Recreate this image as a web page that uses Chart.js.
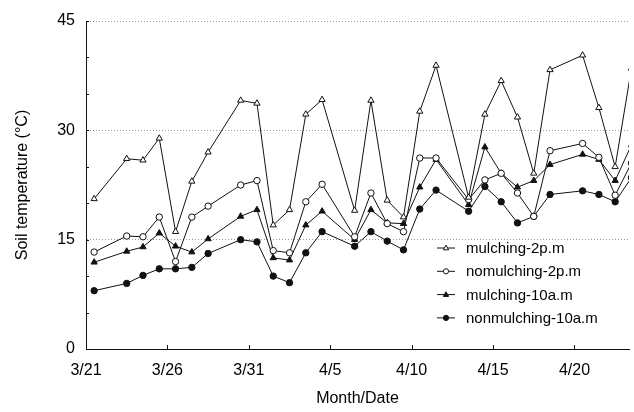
<!DOCTYPE html>
<html>
<head>
<meta charset="utf-8">
<script src="https://cdn.jsdelivr.net/npm/chart.js@4.4.0/dist/chart.umd.min.js"></script>
<style>
  html, body { margin: 0; padding: 0; background: #fff; }
</style>
</head>
<body>
<canvas id="chart" width="634" height="412"></canvas>
<script>
// measurement dates (month/day)
const dates = ['3/21','3/23','3/24','3/25','3/26','3/27','3/28','3/30','3/31','4/1','4/2','4/3','4/4',
               '4/6','4/7','4/8','4/9','4/10','4/11','4/13','4/14','4/15','4/16','4/17','4/18',
               '4/20','4/21','4/22','4/23'];

// soil temperature, degC
const mulching2pm    = [20.6, 26.1, 25.9, 28.9, 16.1, 23.0, 27.0, 34.1, 33.7, 17.0, 19.1, 32.2, 34.2,
                        19.0, 34.1, 20.4, 18.1, 32.6, 38.9, 20.8, 32.2, 36.8, 31.8, 24.1, 38.3,
                        40.3, 33.1, 25.0, 38.5];
const nomulching2pm  = [13.3, 15.5, 15.4, 18.1, 12.0, 18.1, 19.6, 22.5, 23.1, 13.5, 13.2, 20.2, 22.6,
                        15.4, 21.4, 17.2, 16.1, 26.2, 26.2, 20.5, 23.2, 24.1, 21.4, 18.2, 27.2,
                        28.2, 26.3, 21.1, 25.5];
const mulching10am   = [11.9, 13.4, 14.0, 15.9, 14.1, 13.3, 15.1, 18.2, 19.1, 12.5, 12.2, 17.0, 18.9,
                        15.0, 19.1, 17.3, 17.2, 22.2, 26.0, 19.8, 27.7, 24.1, 22.2, 23.1, 25.3,
                        26.7, 26.0, 23.1, 28.0];
const nonmulching10am = [8.0, 9.0, 10.1, 11.0, 11.0, 11.2, 13.1, 15.0, 14.7, 10.0, 9.1, 13.2, 16.1,
                        14.1, 16.1, 14.8, 13.6, 19.2, 21.8, 18.9, 22.3, 20.2, 17.3, 18.2, 21.2,
                        21.7, 21.2, 20.2, 23.5];

const xTickLabels = ['3/21','3/26','3/31','4/5','4/10','4/15','4/20'];
const yTickLabels = [0, 15, 30, 45];

// days since 3/21
function dayOf(md) {
    const [m, d] = md.split('/').map(Number);
    return (Date.UTC(2000, m - 1, d) - Date.UTC(2000, 2, 21)) / 864e5;
}
// readings sit around midday of each date
const points = vals => vals.map((v, i) => ({ x: dayOf(dates[i]) + 0.5, y: v }));

const ink = '#111';
function series(label, vals, style, filled) {
    return {
        label: label,
        data: points(vals),
        borderColor: ink,
        borderWidth: 1,
        pointStyle: style,
        pointRadius: style === 'triangle' ? 3.6 : 3.2,
        pointBackgroundColor: filled ? ink : '#fff',
        pointBorderColor: ink,
        pointBorderWidth: 1,
        tension: 0
    };
}

function drawMarker(ctx, style, filled, x, y, r) {
    ctx.beginPath();
    if (style === 'triangle') {
        ctx.moveTo(x, y - r * 1.1);
        ctx.lineTo(x + r, y + r * 0.7);
        ctx.lineTo(x - r, y + r * 0.7);
        ctx.closePath();
    } else {
        ctx.arc(x, y, r, 0, Math.PI * 2);
    }
    ctx.fillStyle = filled ? ink : '#fff';
    ctx.fill();
    ctx.stroke();
}

// legend drawn inside the plot, lower right
const insideLegend = {
    id: 'insideLegend',
    afterDraw(chart) {
        const ctx = chart.ctx;
        const area = chart.chartArea;
        const x0 = area.left + 351;
        const y0 = area.top + 227;
        ctx.save();
        ctx.strokeStyle = ink;
        ctx.lineWidth = 1;
        ctx.font = '15px Arial, "Liberation Sans", sans-serif';
        ctx.textBaseline = 'middle';
        chart.data.datasets.forEach((ds, i) => {
            const y = y0 + i * 23.3;
            ctx.beginPath();
            ctx.moveTo(x0, y);
            ctx.lineTo(x0 + 18, y);
            ctx.stroke();
            drawMarker(ctx, ds.pointStyle, ds.pointBackgroundColor !== '#fff', x0 + 9, y, 2.6);
            ctx.fillStyle = '#000';
            ctx.fillText(ds.label, x0 + 29, y + 1);
        });
        ctx.restore();
    }
};

// small inward tick marks on both axes
const innerTicks = {
    id: 'innerTicks',
    afterDraw(chart) {
        const ctx = chart.ctx;
        const xs = chart.scales.x, ys = chart.scales.y;
        ctx.save();
        ctx.strokeStyle = ink;
        ctx.lineWidth = 1;
        ctx.beginPath();
        xs.ticks.forEach(t => {
            const px = Math.round(xs.getPixelForValue(t.value)) + 0.5;
            ctx.moveTo(px, ys.bottom);
            ctx.lineTo(px, ys.bottom - 4);
        });
        ys.ticks.forEach(t => {
            const py = Math.round(ys.getPixelForValue(t.value)) + 0.5;
            ctx.moveTo(xs.left, py);
            ctx.lineTo(xs.left + 3, py);
        });
        ctx.stroke();
        ctx.restore();
    }
};

const font = { family: 'Arial, "Liberation Sans", sans-serif' };

new Chart(document.getElementById('chart'), {
    type: 'line',
    data: {
        datasets: [
            series('mulching-2p.m', mulching2pm, 'triangle', false),
            series('nomulching-2p.m', nomulching2pm, 'circle', false),
            series('mulching-10a.m', mulching10am, 'triangle', true),
            series('nonmulching-10a.m', nonmulching10am, 'circle', true)
        ]
    },
    options: {
        responsive: false,
        animation: false,
        devicePixelRatio: 1,
        layout: { padding: { top: 21, right: 0, left: 0, bottom: 0 } },
        plugins: {
            legend: { display: false },
            tooltip: { enabled: false }
        },
        scales: {
            x: {
                type: 'linear',
                min: 0,
                max: 33.35,
                afterFit: s => { s.height = 63; },
                grid: { display: false, drawTicks: false },
                border: { display: true, color: ink, width: 1 },
                ticks: {
                    stepSize: 5,
                    includeBounds: false,
                    autoSkip: false,
                    maxRotation: 0,
                    padding: 12,
                    color: '#000',
                    font: { ...font, size: 16 },
                    callback: v => {
                        const lbl = xTickLabels.find(t => dayOf(t) === v);
                        return lbl || '';
                    }
                },
                title: {
                    display: true,
                    text: 'Month/Date',
                    color: '#000',
                    font: { ...font, size: 16 },
                    padding: { top: 4, bottom: 4 }
                }
            },
            y: {
                min: 0,
                max: 45,
                afterFit: s => { s.width = 86; },
                grid: {
                    drawTicks: false,
                    color: ctx => yTickLabels.includes(ctx.tick.value) && ctx.tick.value !== 0 ? '#9a9a9a' : 'rgba(0,0,0,0)',
                    lineWidth: 1
                },
                // in v4 border.dash styles the grid lines
                border: { display: true, color: ink, width: 1, dash: [1, 2] },
                ticks: {
                    stepSize: 5,
                    padding: 11,
                    color: '#000',
                    font: { ...font, size: 16 },
                    callback: v => yTickLabels.includes(v) ? String(v) : ''
                },
                title: {
                    display: true,
                    text: 'Soil temperature (°C)',
                    color: '#000',
                    font: { ...font, size: 16 },
                    padding: { top: 13, bottom: 0 }
                }
            }
        }
    },
    plugins: [insideLegend, innerTicks]
});
</script>
</body>
</html>
